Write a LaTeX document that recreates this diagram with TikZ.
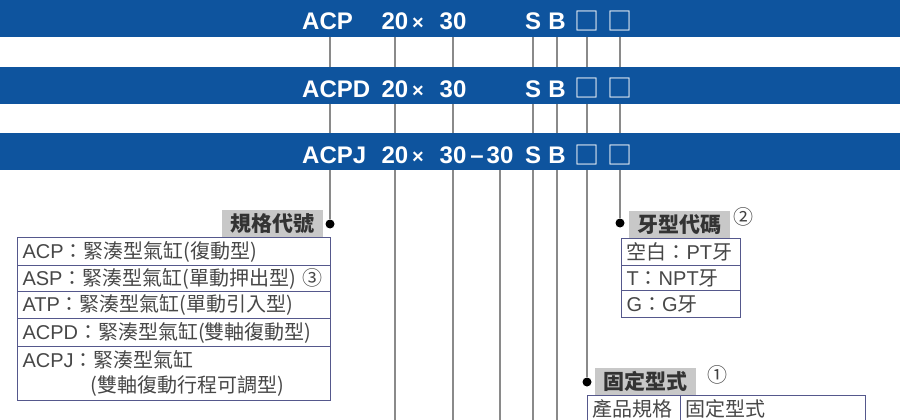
\documentclass[tikz,border=0pt]{standalone}
\usepackage{fontspec}
\setmainfont{Liberation Sans}
\newfontfamily\cjk{Noto Sans CJK TC}
\definecolor{barblue}{RGB}{14,84,158}
\definecolor{tagfill}{RGB}{200,200,200}
\definecolor{tblline}{RGB}{85,88,140}
\definecolor{leadgray}{RGB}{138,138,138}
\pgfdeclarelayer{background}
\pgfsetlayers{background,main}

\begin{document}
\begin{tikzpicture}[x=1pt, y=-1pt]
    \tikzstyle{bar}=[fill=barblue, minimum width=900pt, minimum height=36.5pt, inner sep=0pt, anchor=north west]
    \tikzstyle{code}=[text=white, font=\fontsize{24}{26}\selectfont\bfseries, inner sep=0pt, anchor=base]
    \tikzstyle{blank}=[code, font=\fontsize{25}{26}\selectfont\cjk]
    \tikzstyle{lead}=[draw=leadgray, line width=1.6pt]
    \tikzstyle{dot}=[circle, fill=black, minimum size=9pt, inner sep=0pt]
    \tikzstyle{tag}=[fill=tagfill, text=black!80, font=\fontsize{21}{23}\selectfont\cjk\bfseries, minimum width=101pt, minimum height=27pt, inner sep=0pt, anchor=north west]
    \tikzstyle{cell}=[draw=tblline, line width=1pt, text=black!72, font=\fontsize{20}{25}\selectfont, inner xsep=5pt, inner ysep=0pt, anchor=north west, align=left]
    \tikzstyle{num}=[text=black!75, font=\fontsize{20}{22}\selectfont\cjk, inner sep=0pt]

    \useasboundingbox (0,0) rectangle (900,420);
    \coordinate (bottom) at (0,420);

    % Draw the three code bars
    \foreach \name/\y in {1/0,2/67,3/133}
        \node[bar] (bar\name) at (0,\y) {};

    % Codes printed on the bars
    \node[code, anchor=base west] (b1-type) at (302,30) {ACP};
    \node[code, anchor=base west] (b2-type) at (302,97) {ACPD};
    \node[code, anchor=base west] (b3-type) at (302,163) {ACPJ};
    \foreach \b/\y in {1/30,2/97,3/163} {
        \node[code] (b\b-bore) at (395,\y) {20};
        \node[code, font=\fontsize{20}{22}\selectfont\bfseries] (b\b-x) at (418,\y) {×};
        \node[code] (b\b-stroke) at (453,\y) {30};
        \node[code] (b\b-s) at (533,\y) {S};
        \node[code] (b\b-b) at (557,\y) {B};
        \node[blank] (b\b-mount) at (587,\y+1) {□};
        \node[blank] (b\b-thread) at (620,\y+1) {□};
    }
    \node[code] (b3-dash) at (477,163) {–};
    \node[code] (b3-adj) at (500,163) {30};

    % Dots and grey headings
    \node[dot] (d-spec) at (330,224) {};
    \node[dot] (d-thread) at (620,223) {};
    \node[dot] (d-mount) at (587,382) {};
    \node[tag] (t-spec) at (222,210) {規格代號};
    \node[tag] (t-thread) at (629,211) {牙型代碼};
    \node[tag] (t-mount) at (595,368) {固定型式};
    \node[num] (n-thread) at (743,217) {②};
    \node[num] (n-mount) at (717,375) {①};

    % Spec code table
    \foreach \name/\y/\h/\txt in {1/237/28/{ACP\cjk：緊湊型氣缸(復動型)},
                                2/265/26/{ASP\cjk：緊湊型氣缸(單動押出型) ③},
                                3/291/27/{ATP\cjk：緊湊型氣缸(單動引入型)},
                                4/318/28/{ACPD\cjk：緊湊型氣缸(雙軸復動型)},
                                5/346/54/{ACPJ\cjk：緊湊型氣缸\\\hspace*{68pt}\cjk(雙軸復動行程可調型)}}
        \node[cell, minimum height=\h pt, text width=303pt] (spec-\name) at (17,\y) {\txt};

    % Thread code table
    \foreach \name/\y/\h/\txt in {1/238/27/{{\cjk 空白：}PT{\cjk 牙}},
                                2/265/25/{T{\cjk ：}NPT{\cjk 牙}},
                                3/290/27/{G{\cjk ：}G{\cjk 牙}}}
        \node[cell, minimum height=\h pt, text width=109pt] (thread-\name) at (621,\y) {\txt};

    % Mounting table
    \node[cell, minimum height=27pt, text width=83pt] (mount-1) at (587,395) {\cjk 產品規格};
    \node[cell, minimum height=27pt, text width=175pt] (mount-2) at (680,395) {\cjk 固定型式};

    % Leader lines from the codes
    \begin{pgfonlayer}{background}
        \foreach \tok in {bore,stroke,s,b}
            \draw[lead] (b1-\tok |- bar1.south) -- (b1-\tok |- bottom);
        \draw[lead] (b3-adj |- bar3.south) -- (b3-adj |- bottom);
        \draw[lead] (d-spec |- bar1.south) -- (d-spec);
        \draw[lead] (d-thread |- bar1.south) -- (d-thread);
        \draw[lead] (d-mount |- bar1.south) -- (d-mount);
    \end{pgfonlayer}
\end{tikzpicture}
\end{document}
